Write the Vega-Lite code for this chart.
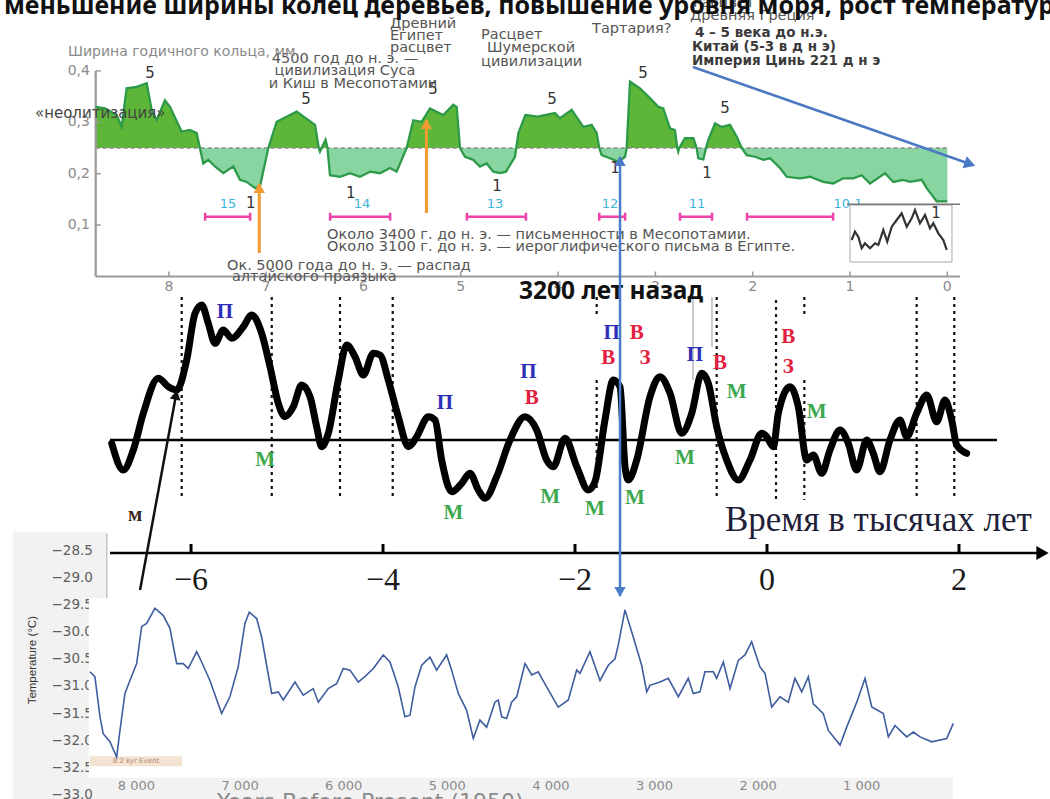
{
"$schema": "https://vega.github.io/schema/vega-lite/v6.json",
"width": 1050, "height": 799, "autosize": {"type": "none"}, "padding": 0, "background": "white",
"config": {"view": {"stroke": null}, "axis": {"grid": false}},
"datasets": {
"rings": [{"k":8.752,"v":0.330},{"k":8.656,"v":0.327},{"k":8.536,"v":0.314},{"k":8.485,"v":0.291},{"k":8.434,"v":0.366},{"k":8.331,"v":0.369},{"k":8.228,"v":0.376},{"k":8.177,"v":0.324},{"k":8.126,"v":0.304},{"k":8.040,"v":0.343},{"k":7.989,"v":0.330},{"k":7.869,"v":0.282},{"k":7.783,"v":0.285},{"k":7.714,"v":0.279},{"k":7.681,"v":0.25},{"k":7.646,"v":0.220},{"k":7.595,"v":0.227},{"k":7.526,"v":0.214},{"k":7.441,"v":0.201},{"k":7.338,"v":0.214},{"k":7.269,"v":0.188},{"k":7.200,"v":0.184},{"k":7.115,"v":0.172},{"k":7.064,"v":0.175},{"k":6.978,"v":0.25},{"k":6.892,"v":0.301},{"k":6.687,"v":0.321},{"k":6.498,"v":0.295},{"k":6.46,"v":0.25},{"k":6.447,"v":0.243},{"k":6.43,"v":0.25},{"k":6.39,"v":0.266},{"k":6.37,"v":0.25},{"k":6.344,"v":0.197},{"k":6.241,"v":0.194},{"k":6.138,"v":0.201},{"k":6.036,"v":0.194},{"k":5.933,"v":0.204},{"k":5.830,"v":0.201},{"k":5.727,"v":0.211},{"k":5.659,"v":0.204},{"k":5.556,"v":0.25},{"k":5.488,"v":0.304},{"k":5.402,"v":0.301},{"k":5.317,"v":0.327},{"k":5.180,"v":0.314},{"k":5.077,"v":0.334},{"k":5.042,"v":0.330},{"k":5.008,"v":0.25},{"k":4.957,"v":0.233},{"k":4.871,"v":0.227},{"k":4.803,"v":0.214},{"k":4.734,"v":0.220},{"k":4.666,"v":0.204},{"k":4.597,"v":0.201},{"k":4.535,"v":0.204},{"k":4.443,"v":0.233},{"k":4.43,"v":0.25},{"k":4.408,"v":0.279},{"k":4.336,"v":0.314},{"k":4.210,"v":0.311},{"k":4.032,"v":0.318},{"k":3.982,"v":0.308},{"k":3.860,"v":0.324},{"k":3.741,"v":0.291},{"k":3.655,"v":0.295},{"k":3.603,"v":0.279},{"k":3.577,"v":0.25},{"k":3.552,"v":0.236},{"k":3.467,"v":0.230},{"k":3.381,"v":0.223},{"k":3.312,"v":0.233},{"k":3.295,"v":0.25},{"k":3.261,"v":0.379},{"k":3.158,"v":0.366},{"k":3.056,"v":0.347},{"k":2.970,"v":0.330},{"k":2.919,"v":0.327},{"k":2.850,"v":0.288},{"k":2.799,"v":0.285},{"k":2.775,"v":0.25},{"k":2.765,"v":0.243},{"k":2.755,"v":0.25},{"k":2.696,"v":0.269},{"k":2.610,"v":0.269},{"k":2.576,"v":0.25},{"k":2.559,"v":0.230},{"k":2.508,"v":0.228},{"k":2.48,"v":0.25},{"k":2.456,"v":0.266},{"k":2.387,"v":0.298},{"k":2.319,"v":0.291},{"k":2.233,"v":0.295},{"k":2.164,"v":0.272},{"k":2.113,"v":0.25},{"k":2.062,"v":0.236},{"k":1.976,"v":0.233},{"k":1.891,"v":0.227},{"k":1.822,"v":0.230},{"k":1.719,"v":0.211},{"k":1.651,"v":0.194},{"k":1.514,"v":0.191},{"k":1.411,"v":0.194},{"k":1.274,"v":0.184},{"k":1.172,"v":0.181},{"k":1.069,"v":0.191},{"k":0.966,"v":0.191},{"k":0.880,"v":0.197},{"k":0.794,"v":0.181},{"k":0.640,"v":0.201},{"k":0.555,"v":0.184},{"k":0.452,"v":0.188},{"k":0.383,"v":0.184},{"k":0.263,"v":0.188},{"k":0.212,"v":0.172},{"k":0.109,"v":0.146},{"k":0.0,"v":0.146}],
"linesA": [
{"k1":8.752,"v1":0.25,"k2":0.0,"v2":0.25,"grp":"thr"},
{"k1":8.752,"v1":0.0,"k2":-0.1305,"v2":0.0,"grp":"axis"},
{"k1":8.752,"v1":0.0,"k2":8.752,"v2":0.4,"grp":"axis"},
{"k1":7.071,"v1":0.0457,"k2":7.071,"v2":0.180,"grp":"orange"},
{"k1":5.353,"v1":0.1235,"k2":5.353,"v2":0.3045,"grp":"orange"},
{"k1":2.614,"v1":0.4076,"k2":-0.263,"v2":0.2169,"grp":"blue"},
{"k1":1.031,"v1":0.1406,"k2":-0.131,"v2":0.1406,"grp":"inset"}],
"ticksA": [{"k":8,"lab":"8"},{"k":7,"lab":"7"},{"k":6,"lab":"6"},{"k":5,"lab":"5"},{"k":4,"lab":"4"},{"k":3,"lab":"3"},{"k":2,"lab":"2"},{"k":1,"lab":"1"},{"k":0,"lab":"0"}],
"yticksA": [{"v":0.1,"lab":"0,1"},{"v":0.2,"lab":"0,2"},{"v":0.3,"lab":"0,3"},{"v":0.4,"lab":"0,4"}],
"pinkA": [{"k1":7.627,"k2":7.165,"v":0.1163},{"k1":6.343,"k2":5.726,"v":0.1163},{"k1":4.937,"k2":4.330,"v":0.1163},{"k1":3.577,"k2":3.312,"v":0.1163},{"k1":2.747,"k2":2.418,"v":0.1163},{"k1":2.058,"k2":1.174,"v":0.1163}],
"insetBox": [{"k1":1.0,"k2":-0.048,"v1":0.139,"v2":0.0282}],
"insetLine": [{"k":0.983,"v":0.0710},{"k":0.949,"v":0.0872},{"k":0.915,"v":0.0774},{"k":0.880,"v":0.0549},{"k":0.846,"v":0.0646},{"k":0.794,"v":0.0549},{"k":0.743,"v":0.0646},{"k":0.709,"v":0.0613},{"k":0.658,"v":0.0905},{"k":0.617,"v":0.0677},{"k":0.571,"v":0.0969},{"k":0.520,"v":0.1099},{"k":0.469,"v":0.1230},{"k":0.417,"v":0.0969},{"k":0.366,"v":0.1132},{"k":0.332,"v":0.1294},{"k":0.281,"v":0.1035},{"k":0.229,"v":0.1196},{"k":0.178,"v":0.0938},{"k":0.144,"v":0.1035},{"k":0.092,"v":0.0840},{"k":0.041,"v":0.0710},{"k":0.006,"v":0.0516}],
"textA": [
{"k":9.695,"v":0.5107,"text":"меньшение ширины колец деревьев, повышение уровня моря, рост температуры","grp":"title"},
{"k":5.728,"v":0.4912,"text":"Древний","grp":"ann"},
{"k":5.728,"v":0.4679,"text":"Египет","grp":"ann"},
{"k":5.728,"v":0.4446,"text":"расцвет","grp":"ann"},
{"k":4.792,"v":0.4698,"text":"Расцвет","grp":"ann"},
{"k":4.731,"v":0.4446,"text":"Шумерской","grp":"ann"},
{"k":4.792,"v":0.4173,"text":"цивилизации","grp":"ann"},
{"k":3.651,"v":0.4815,"text":"Тартария?","grp":"ann"},
{"k":2.614,"v":0.5321,"text":"Расцвет","grp":"ann"},
{"k":2.644,"v":0.5068,"text":"Древняя Греция","grp":"ann"},
{"k":6.375,"v":0.0807,"text":"Около 3400 г. до н. э. —  письменности в Месопотамии.","grp":"ann"},
{"k":6.375,"v":0.0574,"text":"Около 3100 г. до н. э. — иероглифического письма в Египте.","grp":"ann"},
{"k":7.403,"v":0.0204,"text":"Ок. 5000 года до н. э. — распад","grp":"ann"},
{"k":7.352,"v":-0.001,"text":"алтайского праязыка","grp":"ann"},
{"k":6.190,"v":0.4232,"text":"4500 год до н. э. —","grp":"annc"},
{"k":6.190,"v":0.3998,"text":"цивилизация Суса","grp":"annc"},
{"k":6.108,"v":0.3745,"text":"и Киш в Месопотамии","grp":"annc"},
{"k":2.593,"v":0.4737,"text":"4 – 5 века до н.э.","grp":"annb"},
{"k":2.624,"v":0.4465,"text":"Китай (5-3 в д н э)","grp":"annb"},
{"k":2.624,"v":0.4193,"text":"Империя Цинь  221 д н э","grp":"annb"},
{"k":9.037,"v":0.4368,"text":"Ширина годичного кольца, мм","grp":"ylab"},
{"k":9.376,"v":0.3181,"text":"«неолитизация»","grp":"neo"},
{"k":8.194,"v":0.3959,"text":"5","grp":"dig"},
{"k":6.591,"v":0.3453,"text":"5","grp":"dig"},
{"k":5.286,"v":0.3648,"text":"5","grp":"dig"},
{"k":4.063,"v":0.3453,"text":"5","grp":"dig"},
{"k":3.127,"v":0.3959,"text":"5","grp":"dig"},
{"k":2.285,"v":0.3278,"text":"5","grp":"dig"},
{"k":7.159,"v":0.1430,"text":"1","grp":"dig"},
{"k":6.131,"v":0.1625,"text":"1","grp":"dig"},
{"k":4.628,"v":0.1761,"text":"1","grp":"dig"},
{"k":3.415,"v":0.2111,"text":"1","grp":"dig"},
{"k":2.470,"v":0.2014,"text":"1","grp":"dig"},
{"k":0.116,"v":0.1235,"text":"1","grp":"dig"},
{"k":7.393,"v":0.1411,"text":"15","grp":"cyan"},
{"k":6.016,"v":0.1411,"text":"14","grp":"cyan"},
{"k":4.649,"v":0.1411,"text":"13","grp":"cyan"},
{"k":3.467,"v":0.1411,"text":"12","grp":"cyan"},
{"k":2.573,"v":0.1411,"text":"11","grp":"cyan"},
{"k":1.021,"v":0.1411,"text":"10.1","grp":"cyan"}],
"curveB": [{"t":-6.826,"v":-0.33},{"t":-6.705,"v":-3.0},{"t":-6.601,"v":-1.0},{"t":-6.497,"v":2.67},{"t":-6.341,"v":6.17},{"t":-6.236,"v":5.33},{"t":-6.149,"v":5.0},{"t":-6.045,"v":8.0},{"t":-5.958,"v":12.67},{"t":-5.889,"v":13.5},{"t":-5.820,"v":11.67},{"t":-5.750,"v":9.67},{"t":-5.664,"v":11.0},{"t":-5.576,"v":10.17},{"t":-5.455,"v":11.33},{"t":-5.368,"v":12.5},{"t":-5.264,"v":10.67},{"t":-5.177,"v":7.33},{"t":-5.091,"v":3.67},{"t":-5.021,"v":2.33},{"t":-4.934,"v":3.33},{"t":-4.847,"v":5.5},{"t":-4.760,"v":4.33},{"t":-4.691,"v":1.33},{"t":-4.639,"v":-0.67},{"t":-4.570,"v":0.67},{"t":-4.466,"v":6.0},{"t":-4.378,"v":9.5},{"t":-4.292,"v":8.33},{"t":-4.205,"v":6.5},{"t":-4.101,"v":8.67},{"t":-4.031,"v":8.5},{"t":-3.945,"v":6.0},{"t":-3.841,"v":2.33},{"t":-3.736,"v":-0.67},{"t":-3.649,"v":0.33},{"t":-3.528,"v":2.33},{"t":-3.458,"v":2.0},{"t":-3.389,"v":-2.0},{"t":-3.284,"v":-5.17},{"t":-3.180,"v":-4.33},{"t":-3.094,"v":-3.33},{"t":-3.007,"v":-5.0},{"t":-2.938,"v":-5.83},{"t":-2.816,"v":-3.67},{"t":-2.677,"v":0},{"t":-2.521,"v":2.33},{"t":-2.399,"v":1.0},{"t":-2.295,"v":-2.0},{"t":-2.226,"v":-2.67},{"t":-2.104,"v":0.17},{"t":-1.982,"v":-2.67},{"t":-1.861,"v":-5.0},{"t":-1.792,"v":-4.17},{"t":-1.688,"v":2.0},{"t":-1.601,"v":6.0},{"t":-1.531,"v":5.33},{"t":-1.479,"v":-2.67},{"t":-1.445,"v":-4.0},{"t":-1.357,"v":-2.0},{"t":-1.219,"v":4.33},{"t":-1.115,"v":6.33},{"t":-1.010,"v":4.67},{"t":-0.889,"v":0.67},{"t":-0.784,"v":2.67},{"t":-0.680,"v":6.67},{"t":-0.611,"v":5.67},{"t":-0.524,"v":1.33},{"t":-0.420,"v":-2.0},{"t":-0.299,"v":-4.0},{"t":-0.177,"v":-2.0},{"t":-0.055,"v":0.67},{"t":-0.003,"v":0.33},{"t":0.066,"v":-0.67},{"t":0.118,"v":2.67},{"t":0.240,"v":5.33},{"t":0.326,"v":3.33},{"t":0.414,"v":-2.0},{"t":0.482,"v":-1.5},{"t":0.570,"v":-3.33},{"t":0.656,"v":-1.0},{"t":0.760,"v":1.0},{"t":0.847,"v":-0.33},{"t":0.934,"v":-3.0},{"t":1.039,"v":0},{"t":1.107,"v":-1.33},{"t":1.177,"v":-3.17},{"t":1.281,"v":0},{"t":1.385,"v":2.0},{"t":1.455,"v":0.33},{"t":1.559,"v":2.67},{"t":1.664,"v":4.5},{"t":1.768,"v":1.83},{"t":1.854,"v":4.0},{"t":1.924,"v":2.0},{"t":1.976,"v":-0.5},{"t":2.080,"v":-1.33}],
"dashB": [{"t":-6.097,"v1":14.3,"v2":-6.0},{"t":-5.159,"v1":14.3,"v2":-6.0},{"t":-4.448,"v1":14.3,"v2":-6.0},{"t":-3.899,"v1":14.3,"v2":-6.0},{"t":-1.774,"v1":14.3,"v2":12.3},{"t":-1.774,"v1":6.0,"v2":-5.0},{"t":-0.524,"v1":14.3,"v2":-6.0},{"t":0.094,"v1":14.0,"v2":-6.0},{"t":0.389,"v1":14.3,"v2":12.3},{"t":0.389,"v1":6.0,"v2":-6.0},{"t":1.559,"v1":14.3,"v2":-6.0},{"t":1.951,"v1":14.3,"v2":-6.0}],
"lettersB": [{"t":-5.646,"v":12.83,"letter":"П"},{"t":-3.354,"v":3.67,"letter":"П"},{"t":-2.486,"v":6.83,"letter":"П"},{"t":-1.618,"v":10.67,"letter":"П"},{"t":-0.75,"v":8.5,"letter":"П"},{"t":-5.229,"v":-2.0,"letter":"М"},{"t":-3.268,"v":-7.33,"letter":"М"},{"t":-2.260,"v":-5.67,"letter":"М"},{"t":-1.792,"v":-6.93,"letter":"М"},{"t":-1.375,"v":-5.83,"letter":"М"},{"t":-0.316,"v":4.83,"letter":"М"},{"t":-0.854,"v":-1.83,"letter":"М"},{"t":0.518,"v":2.83,"letter":"М"},{"t":-2.451,"v":4.17,"letter":"В"},{"t":-1.653,"v":8.17,"letter":"В"},{"t":-1.357,"v":10.67,"letter":"В"},{"t":-0.490,"v":7.67,"letter":"В"},{"t":0.222,"v":10.33,"letter":"В"},{"t":-1.271,"v":8.17,"letter":"З"},{"t":0.222,"v":7.27,"letter":"З"},{"t":-6.583,"v":-7.5,"letter":"м"}],
"textB": [{"t":-2.583,"v":14.8,"text":"3200 лет назад","grp":"t3200"},{"t":-0.438,"v":-8.0,"text":"Время в тысячах лет","grp":"time"}],
"linesB": [{"t1":-6.844,"v1":0,"t2":2.396,"v2":0,"grp":"zero"},{"t1":-6.844,"v1":-11.3,"t2":2.85,"v2":-11.3,"grp":"axis"},{"t1":-6.531,"v1":-15,"t2":-6.156,"v2":4.5,"grp":"black"},{"t1":-1.531,"v1":-15.6,"t2":-1.531,"v2":28.3,"grp":"blue"},{"t1":-0.771,"v1":14.3,"t2":-0.771,"v2":6.0,"grp":"grey"},{"t1":-0.573,"v1":14.3,"t2":-0.573,"v2":9.3,"grp":"grey"}],
"ticksB": [{"t":-6,"lab":"−6"},{"t":-4,"lab":"−4"},{"t":-2,"lab":"−2"},{"t":0,"lab":"0"},{"t":2,"lab":"2"}],
"tipsB": [{"t":2.87,"v":-11.3}],
"temp": [{"yr":8449,"T":-30.73},{"yr":8401,"T":-30.82},{"yr":8352,"T":-31.56},{"yr":8321,"T":-31.87},{"yr":8256,"T":-32.02},{"yr":8191,"T":-32.30},{"yr":8159,"T":-31.81},{"yr":8111,"T":-31.13},{"yr":8063,"T":-30.89},{"yr":7998,"T":-30.58},{"yr":7950,"T":-29.90},{"yr":7902,"T":-29.84},{"yr":7822,"T":-29.56},{"yr":7742,"T":-29.69},{"yr":7677,"T":-29.93},{"yr":7612,"T":-30.58},{"yr":7549,"T":-30.58},{"yr":7500,"T":-30.67},{"yr":7419,"T":-30.36},{"yr":7371,"T":-30.55},{"yr":7291,"T":-30.89},{"yr":7178,"T":-31.50},{"yr":7098,"T":-31.19},{"yr":7018,"T":-30.64},{"yr":6953,"T":-29.84},{"yr":6911,"T":-29.63},{"yr":6840,"T":-29.75},{"yr":6792,"T":-30.09},{"yr":6695,"T":-31.13},{"yr":6631,"T":-31.10},{"yr":6583,"T":-31.25},{"yr":6470,"T":-30.92},{"yr":6390,"T":-31.16},{"yr":6294,"T":-31.04},{"yr":6245,"T":-31.29},{"yr":6149,"T":-31.04},{"yr":6068,"T":-30.95},{"yr":6004,"T":-30.67},{"yr":5939,"T":-30.70},{"yr":5859,"T":-30.92},{"yr":5795,"T":-30.82},{"yr":5714,"T":-30.67},{"yr":5618,"T":-30.42},{"yr":5553,"T":-30.55},{"yr":5473,"T":-31.01},{"yr":5409,"T":-31.56},{"yr":5360,"T":-31.53},{"yr":5312,"T":-31.01},{"yr":5247,"T":-30.61},{"yr":5167,"T":-30.46},{"yr":5103,"T":-30.70},{"yr":5006,"T":-30.42},{"yr":4958,"T":-30.70},{"yr":4894,"T":-31.13},{"yr":4813,"T":-31.44},{"yr":4749,"T":-31.96},{"yr":4685,"T":-31.62},{"yr":4620,"T":-31.75},{"yr":4540,"T":-31.29},{"yr":4508,"T":-31.25},{"yr":4475,"T":-31.56},{"yr":4427,"T":-31.59},{"yr":4379,"T":-31.29},{"yr":4330,"T":-31.19},{"yr":4250,"T":-30.58},{"yr":4185,"T":-30.79},{"yr":4122,"T":-30.73},{"yr":4041,"T":-31.01},{"yr":3929,"T":-31.38},{"yr":3832,"T":-31.25},{"yr":3751,"T":-30.70},{"yr":3719,"T":-30.76},{"yr":3623,"T":-30.36},{"yr":3526,"T":-30.89},{"yr":3446,"T":-30.61},{"yr":3381,"T":-30.49},{"yr":3350,"T":-30.24},{"yr":3285,"T":-29.59},{"yr":3205,"T":-30.09},{"yr":3124,"T":-30.61},{"yr":3075,"T":-31.10},{"yr":3044,"T":-30.98},{"yr":2947,"T":-30.92},{"yr":2867,"T":-30.85},{"yr":2770,"T":-31.19},{"yr":2674,"T":-30.85},{"yr":2626,"T":-31.13},{"yr":2561,"T":-31.10},{"yr":2513,"T":-30.73},{"yr":2432,"T":-30.73},{"yr":2400,"T":-30.85},{"yr":2336,"T":-30.55},{"yr":2271,"T":-31.04},{"yr":2191,"T":-30.52},{"yr":2127,"T":-30.42},{"yr":2062,"T":-30.18},{"yr":1982,"T":-30.64},{"yr":1933,"T":-30.76},{"yr":1869,"T":-31.38},{"yr":1789,"T":-31.19},{"yr":1709,"T":-31.29},{"yr":1644,"T":-30.85},{"yr":1579,"T":-31.10},{"yr":1515,"T":-30.82},{"yr":1467,"T":-31.32},{"yr":1371,"T":-31.50},{"yr":1322,"T":-31.81},{"yr":1209,"T":-32.08},{"yr":1145,"T":-31.75},{"yr":1048,"T":-31.29},{"yr":968,"T":-30.85},{"yr":903,"T":-31.38},{"yr":791,"T":-31.50},{"yr":743,"T":-31.93},{"yr":679,"T":-31.72},{"yr":566,"T":-31.93},{"yr":502,"T":-31.84},{"yr":437,"T":-31.93},{"yr":324,"T":-32.02},{"yr":180,"T":-31.96},{"yr":116,"T":-31.68}],
"rectC": [{"yr1":9193,"yr2":8286,"T1":-28.155,"T2":-29.373,"grp":"bg"},{"yr1":9193,"yr2":8459,"T1":-29.373,"T2":-33.081,"grp":"bg"},{"yr1":8459,"yr2":119,"T1":-32.676,"T2":-33.081,"grp":"bg"},{"yr1":8459,"yr2":119,"T1":-29.373,"T2":-32.676,"grp":"plot"},{"yr1":8449,"yr2":7560,"T1":-32.288,"T2":-32.472,"grp":"ev"}],
"edgeC": [{"yr":8286,"T1":-28.18,"T2":-29.37}],
"ticksCx": [{"yr":8000,"lab":"8 000"},{"yr":7000,"lab":"7 000"},{"yr":6000,"lab":"6 000"},{"yr":5000,"lab":"5 000"},{"yr":4000,"lab":"4 000"},{"yr":3000,"lab":"3 000"},{"yr":2000,"lab":"2 000"},{"yr":1000,"lab":"1 000"}],
"ticksCy": [{"T":-28.5,"lab":"−28.5"},{"T":-29.0,"lab":"−29.0"},{"T":-29.5,"lab":"−29.5"},{"T":-30.0,"lab":"−30.0"},{"T":-30.5,"lab":"−30.5"},{"T":-31.0,"lab":"−31.0"},{"T":-31.5,"lab":"−31.5"},{"T":-32.0,"lab":"−32.0"},{"T":-32.5,"lab":"−32.5"},{"T":-33.0,"lab":"−33.0"}],
"textC": [{"yr":8999,"T":-30.517,"text":"Temperature (°C)","grp":"ylab"},{"yr":7223,"T":-32.952,"text":"Years Before Present (1950)","grp":"xlab"},{"yr":8005,"T":-32.38,"text":"8.2 kyr Event","grp":"ev"}]
},
"resolve": {"scale": {"x": "independent", "y": "independent"}},
"layer": [
{
 "layer": [
  {"data":{"name":"rectC"},"transform":[{"filter":"datum.grp == 'bg'"}],"mark":{"type":"rect","color":"#f2f2f2"},
   "encoding":{"x":{"field":"yr1","type":"quantitative","scale":{"domain":[8458,119],"range":[89,953],"zero":false,"nice":false},"axis":null},"x2":{"field":"yr2"},"y":{"field":"T1","type":"quantitative","scale":{"domain":[-33,-28.5],"range":[795,550.7],"zero":false,"nice":false},"axis":null},"y2":{"field":"T2"}}},
  {"data":{"name":"ticksCy"},"mark":{"type":"text","align":"right","baseline":"middle","font":"DejaVu Sans","fontSize":13.5,"color":"#5e5e5e"},
   "encoding":{"x":{"datum":8420,"type":"quantitative","scale":{"domain":[8458,119],"range":[89,953],"zero":false,"nice":false},"axis":null},"y":{"field":"T","type":"quantitative","scale":{"domain":[-33,-28.5],"range":[795,550.7],"zero":false,"nice":false},"axis":null},"text":{"field":"lab"}}},
  {"data":{"name":"rectC"},"transform":[{"filter":"datum.grp == 'plot'"}],"mark":{"type":"rect","color":"#ffffff"},
   "encoding":{"x":{"field":"yr1","type":"quantitative","scale":{"domain":[8458,119],"range":[89,953],"zero":false,"nice":false},"axis":null},"x2":{"field":"yr2"},"y":{"field":"T1","type":"quantitative","scale":{"domain":[-33,-28.5],"range":[795,550.7],"zero":false,"nice":false},"axis":null},"y2":{"field":"T2"}}},
  {"data":{"name":"rectC"},"transform":[{"filter":"datum.grp == 'ev'"}],"mark":{"type":"rect","color":"#f4e2d2"},
   "encoding":{"x":{"field":"yr1","type":"quantitative","scale":{"domain":[8458,119],"range":[89,953],"zero":false,"nice":false},"axis":null},"x2":{"field":"yr2"},"y":{"field":"T1","type":"quantitative","scale":{"domain":[-33,-28.5],"range":[795,550.7],"zero":false,"nice":false},"axis":null},"y2":{"field":"T2"}}},
  {"data":{"name":"edgeC"},"mark":{"type":"rule","color":"#c4c4c4","strokeWidth":1.5},
   "encoding":{"x":{"field":"yr","type":"quantitative","scale":{"domain":[8458,119],"range":[89,953],"zero":false,"nice":false},"axis":null},"y":{"field":"T1","type":"quantitative","scale":{"domain":[-33,-28.5],"range":[795,550.7],"zero":false,"nice":false},"axis":null},"y2":{"field":"T2"}}},
  {"data":{"name":"temp"},"mark":{"type":"line","color":"#3f5d9e","strokeWidth":1.6},
   "encoding":{"x":{"field":"yr","type":"quantitative","scale":{"domain":[8458,119],"range":[89,953],"zero":false,"nice":false},"axis":null},"y":{"field":"T","type":"quantitative","scale":{"domain":[-33,-28.5],"range":[795,550.7],"zero":false,"nice":false},"axis":null}}},
  {"data":{"name":"ticksCx"},"mark":{"type":"text","align":"center","baseline":"middle","font":"DejaVu Sans","fontSize":13,"color":"#8a8a8a"},
   "encoding":{"x":{"field":"yr","type":"quantitative","scale":{"domain":[8458,119],"range":[89,953],"zero":false,"nice":false},"axis":null},"y":{"datum":-32.841,"type":"quantitative","scale":{"domain":[-33,-28.5],"range":[795,550.7],"zero":false,"nice":false},"axis":null},"text":{"field":"lab"}}},
  {"data":{"name":"textC"},
   "encoding":{"x":{"field":"yr","type":"quantitative","scale":{"domain":[8458,119],"range":[89,953],"zero":false,"nice":false},"axis":null},"y":{"field":"T","type":"quantitative","scale":{"domain":[-33,-28.5],"range":[795,550.7],"zero":false,"nice":false},"axis":null},"text":{"field":"text"}},
   "layer": [
    {"transform":[{"filter":"datum.grp == 'ylab'"}],"mark":{"type":"text","angle":270,"align":"center","baseline":"middle","font":"Liberation Sans","fontSize":11.5,"color":"#333"}},
    {"transform":[{"filter":"datum.grp == 'xlab'"}],"mark":{"type":"text","align":"left","baseline":"top","font":"DejaVu Sans","fontSize":22,"color":"#8a8a8a"}},
    {"transform":[{"filter":"datum.grp == 'ev'"}],"mark":{"type":"text","align":"center","baseline":"middle","font":"DejaVu Sans","fontSize":7,"color":"#b08a72"}}
   ]}
 ]
},
{
 "resolve": {"scale": {"y": "independent"}},
 "layer": [
  {"data":{"name":"rings"},"mark":{"type":"area","color":"#5db637"},
   "encoding":{"x":{"field":"k","type":"quantitative","scale":{"domain":[8.752,-0.1305],"range":[95.7,960],"zero":false,"nice":false},"axis":null},"y":{"field":"v","type":"quantitative","scale":{"domain":[0.25,0.4],"range":[148,70.9],"clamp":true,"zero":false,"nice":false},"axis":null},"y2":{"datum":0.25}}},
  {"data":{"name":"rings"},"mark":{"type":"area","color":"#89d5a2"},
   "encoding":{"x":{"field":"k","type":"quantitative","scale":{"domain":[8.752,-0.1305],"range":[95.7,960],"zero":false,"nice":false},"axis":null},"y":{"field":"v","type":"quantitative","scale":{"domain":[0,0.25],"range":[276.5,148],"clamp":true,"zero":false,"nice":false},"axis":null},"y2":{"datum":0.25}}},
  {
   "layer": [
    {"data":{"name":"linesA"},"transform":[{"filter":"datum.grp == 'thr'"}],"mark":{"type":"rule","color":"#8a8a8a","strokeWidth":1.3,"strokeDash":[4,3]},
     "encoding":{"x":{"field":"k1","type":"quantitative","scale":{"domain":[8.752,-0.1305],"range":[95.7,960],"zero":false,"nice":false},"axis":null},"x2":{"field":"k2"},"y":{"field":"v1","type":"quantitative","scale":{"domain":[0,0.4],"range":[276.5,70.9],"zero":false,"nice":false},"axis":null},"y2":{"field":"v2"}}},
    {"data":{"name":"linesA"},"transform":[{"filter":"datum.grp == 'axis'"}],"mark":{"type":"rule","color":"#9a9a9a","strokeWidth":2.2},
     "encoding":{"x":{"field":"k1","type":"quantitative","scale":{"domain":[8.752,-0.1305],"range":[95.7,960],"zero":false,"nice":false},"axis":null},"x2":{"field":"k2"},"y":{"field":"v1","type":"quantitative","scale":{"domain":[0,0.4],"range":[276.5,70.9],"zero":false,"nice":false},"axis":null},"y2":{"field":"v2"}}},
    {"data":{"name":"ticksA"},"mark":{"type":"rule","color":"#9a9a9a","strokeWidth":1.5},
     "encoding":{"x":{"field":"k","type":"quantitative","scale":{"domain":[8.752,-0.1305],"range":[95.7,960],"zero":false,"nice":false},"axis":null},"y":{"datum":0,"type":"quantitative","scale":{"domain":[0,0.4],"range":[276.5,70.9],"zero":false,"nice":false},"axis":null},"y2":{"datum":0.0097}}},
    {"data":{"name":"ticksA"},"mark":{"type":"text","align":"center","baseline":"middle","font":"DejaVu Sans","fontSize":14,"color":"#8a8a8a"},
     "encoding":{"x":{"field":"k","type":"quantitative","scale":{"domain":[8.752,-0.1305],"range":[95.7,960],"zero":false,"nice":false},"axis":null},"y":{"datum":-0.0204,"type":"quantitative","scale":{"domain":[0,0.4],"range":[276.5,70.9],"zero":false,"nice":false},"axis":null},"text":{"field":"lab"}}},
    {"data":{"name":"yticksA"},"mark":{"type":"rule","color":"#9a9a9a","strokeWidth":1.5},
     "encoding":{"x":{"datum":8.752,"type":"quantitative","scale":{"domain":[8.752,-0.1305],"range":[95.7,960],"zero":false,"nice":false},"axis":null},"x2":{"datum":8.70},"y":{"field":"v","type":"quantitative","scale":{"domain":[0,0.4],"range":[276.5,70.9],"zero":false,"nice":false},"axis":null}}},
    {"data":{"name":"yticksA"},"mark":{"type":"text","align":"right","baseline":"middle","font":"DejaVu Sans","fontSize":14,"color":"#8a8a8a"},
     "encoding":{"x":{"datum":8.811,"type":"quantitative","scale":{"domain":[8.752,-0.1305],"range":[95.7,960],"zero":false,"nice":false},"axis":null},"y":{"field":"v","type":"quantitative","scale":{"domain":[0,0.4],"range":[276.5,70.9],"zero":false,"nice":false},"axis":null},"text":{"field":"lab"}}},
    {"data":{"name":"rings"},"mark":{"type":"line","color":"#2c9a49","strokeWidth":2.3},
     "encoding":{"x":{"field":"k","type":"quantitative","scale":{"domain":[8.752,-0.1305],"range":[95.7,960],"zero":false,"nice":false},"axis":null},"y":{"field":"v","type":"quantitative","scale":{"domain":[0,0.4],"range":[276.5,70.9],"zero":false,"nice":false},"axis":null}}},
    {"data":{"name":"pinkA"},"mark":{"type":"rule","color":"#ef43a9","strokeWidth":2.5},
     "encoding":{"x":{"field":"k1","type":"quantitative","scale":{"domain":[8.752,-0.1305],"range":[95.7,960],"zero":false,"nice":false},"axis":null},"x2":{"field":"k2"},"y":{"field":"v","type":"quantitative","scale":{"domain":[0,0.4],"range":[276.5,70.9],"zero":false,"nice":false},"axis":null}}},
    {"data":{"name":"pinkA"},"mark":{"type":"point","shape":"M0,-1L0,1","filled":false,"color":"#ef43a9","strokeWidth":2.5,"size":64,"opacity":1},
     "encoding":{"x":{"field":"k1","type":"quantitative","scale":{"domain":[8.752,-0.1305],"range":[95.7,960],"zero":false,"nice":false},"axis":null},"y":{"field":"v","type":"quantitative","scale":{"domain":[0,0.4],"range":[276.5,70.9],"zero":false,"nice":false},"axis":null}}},
    {"data":{"name":"pinkA"},"mark":{"type":"point","shape":"M0,-1L0,1","filled":false,"color":"#ef43a9","strokeWidth":2.5,"size":64,"opacity":1},
     "encoding":{"x":{"field":"k2","type":"quantitative","scale":{"domain":[8.752,-0.1305],"range":[95.7,960],"zero":false,"nice":false},"axis":null},"y":{"field":"v","type":"quantitative","scale":{"domain":[0,0.4],"range":[276.5,70.9],"zero":false,"nice":false},"axis":null}}},
    {"data":{"name":"textA"},"transform":[{"filter":"datum.grp == 'cyan'"}],"mark":{"type":"text","align":"center","baseline":"middle","font":"DejaVu Sans","fontSize":13,"color":"#3cb4d9"},
     "encoding":{"x":{"field":"k","type":"quantitative","scale":{"domain":[8.752,-0.1305],"range":[95.7,960],"zero":false,"nice":false},"axis":null},"y":{"field":"v","type":"quantitative","scale":{"domain":[0,0.4],"range":[276.5,70.9],"zero":false,"nice":false},"axis":null},"text":{"field":"text"}}},
    {"data":{"name":"insetBox"},"mark":{"type":"rect","fill":"white","stroke":"#a8a8a8","strokeWidth":1},
     "encoding":{"x":{"field":"k1","type":"quantitative","scale":{"domain":[8.752,-0.1305],"range":[95.7,960],"zero":false,"nice":false},"axis":null},"x2":{"field":"k2"},"y":{"field":"v1","type":"quantitative","scale":{"domain":[0,0.4],"range":[276.5,70.9],"zero":false,"nice":false},"axis":null},"y2":{"field":"v2"}}},
    {"data":{"name":"linesA"},"transform":[{"filter":"datum.grp == 'inset'"}],"mark":{"type":"rule","color":"#777","strokeWidth":1.5},
     "encoding":{"x":{"field":"k1","type":"quantitative","scale":{"domain":[8.752,-0.1305],"range":[95.7,960],"zero":false,"nice":false},"axis":null},"x2":{"field":"k2"},"y":{"field":"v1","type":"quantitative","scale":{"domain":[0,0.4],"range":[276.5,70.9],"zero":false,"nice":false},"axis":null},"y2":{"field":"v2"}}},
    {"data":{"name":"insetLine"},"mark":{"type":"line","color":"#333","strokeWidth":2.2},
     "encoding":{"x":{"field":"k","type":"quantitative","scale":{"domain":[8.752,-0.1305],"range":[95.7,960],"zero":false,"nice":false},"axis":null},"y":{"field":"v","type":"quantitative","scale":{"domain":[0,0.4],"range":[276.5,70.9],"zero":false,"nice":false},"axis":null}}},
    {"data":{"name":"textA"},
     "encoding":{"x":{"field":"k","type":"quantitative","scale":{"domain":[8.752,-0.1305],"range":[95.7,960],"zero":false,"nice":false},"axis":null},"y":{"field":"v","type":"quantitative","scale":{"domain":[0,0.4],"range":[276.5,70.9],"zero":false,"nice":false},"axis":null},"text":{"field":"text"}},
     "layer": [
      {"transform":[{"filter":"datum.grp == 'dig'"}],"mark":{"type":"text","align":"center","baseline":"middle","font":"DejaVu Sans","fontSize":15,"color":"#333"}},
      {"transform":[{"filter":"datum.grp == 'ann'"}],"mark":{"type":"text","align":"left","baseline":"middle","font":"DejaVu Sans","fontSize":14.5,"color":"#555"}},
      {"transform":[{"filter":"datum.grp == 'annc'"}],"mark":{"type":"text","align":"center","baseline":"middle","font":"DejaVu Sans","fontSize":14.5,"color":"#555"}},
      {"transform":[{"filter":"datum.grp == 'annb'"}],"mark":{"type":"text","align":"left","baseline":"middle","font":"DejaVu Sans","fontSize":13.5,"fontWeight":"bold","color":"#3a3a3a"}},
      {"transform":[{"filter":"datum.grp == 'ylab'"}],"mark":{"type":"text","align":"left","baseline":"middle","font":"DejaVu Sans","fontSize":14,"color":"#8a8a8a"}},
      {"transform":[{"filter":"datum.grp == 'neo'"}],"mark":{"type":"text","align":"left","baseline":"middle","font":"DejaVu Sans","fontSize":15,"color":"#444"}},
      {"transform":[{"filter":"datum.grp == 'title'"}],"mark":{"type":"text","align":"left","baseline":"alphabetic","font":"Noto Sans","fontWeight":"bold","fontSize":25,"color":"#111"}}
     ]},
    {"data":{"name":"linesA"},"transform":[{"filter":"datum.grp == 'orange'"}],"mark":{"type":"rule","color":"#f29a33","strokeWidth":3},
     "encoding":{"x":{"field":"k1","type":"quantitative","scale":{"domain":[8.752,-0.1305],"range":[95.7,960],"zero":false,"nice":false},"axis":null},"x2":{"field":"k2"},"y":{"field":"v1","type":"quantitative","scale":{"domain":[0,0.4],"range":[276.5,70.9],"zero":false,"nice":false},"axis":null},"y2":{"field":"v2"}}},
    {"data":{"name":"linesA"},"transform":[{"filter":"datum.grp == 'orange'"}],"mark":{"type":"point","shape":"triangle-up","filled":true,"opacity":1,"color":"#f29a33","size":130,"yOffset":4},
     "encoding":{"x":{"field":"k2","type":"quantitative","scale":{"domain":[8.752,-0.1305],"range":[95.7,960],"zero":false,"nice":false},"axis":null},"y":{"field":"v2","type":"quantitative","scale":{"domain":[0,0.4],"range":[276.5,70.9],"zero":false,"nice":false},"axis":null}}},
    {"data":{"name":"linesA"},"transform":[{"filter":"datum.grp == 'blue'"}],"mark":{"type":"rule","color":"#4a78c2","strokeWidth":2.5},
     "encoding":{"x":{"field":"k1","type":"quantitative","scale":{"domain":[8.752,-0.1305],"range":[95.7,960],"zero":false,"nice":false},"axis":null},"x2":{"field":"k2"},"y":{"field":"v1","type":"quantitative","scale":{"domain":[0,0.4],"range":[276.5,70.9],"zero":false,"nice":false},"axis":null},"y2":{"field":"v2"}}},
    {"data":{"name":"linesA"},"transform":[{"filter":"datum.grp == 'blue'"}],"mark":{"type":"point","shape":"triangle-right","angle":19,"filled":true,"opacity":1,"color":"#4a78c2","size":160,"xOffset":-3,"yOffset":-1},
     "encoding":{"x":{"field":"k2","type":"quantitative","scale":{"domain":[8.752,-0.1305],"range":[95.7,960],"zero":false,"nice":false},"axis":null},"y":{"field":"v2","type":"quantitative","scale":{"domain":[0,0.4],"range":[276.5,70.9],"zero":false,"nice":false},"axis":null}}}
   ]
  }
 ]
},
{
 "layer": [
  {"data":{"name":"linesB"},"transform":[{"filter":"datum.grp == 'zero' || datum.grp == 'axis'"}],"mark":{"type":"rule","color":"#000","strokeWidth":2.6},
   "encoding":{"x":{"field":"t1","type":"quantitative","scale":{"domain":[-6.844,2.896],"range":[110,1045],"zero":false,"nice":false},"axis":null},"x2":{"field":"t2"},"y":{"field":"v1","type":"quantitative","scale":{"domain":[-10,10],"range":[540,340],"zero":false,"nice":false},"axis":null},"y2":{"field":"v2"}}},
  {"data":{"name":"ticksB"},"mark":{"type":"rule","color":"#000","strokeWidth":3},
   "encoding":{"x":{"field":"t","type":"quantitative","scale":{"domain":[-6.844,2.896],"range":[110,1045],"zero":false,"nice":false},"axis":null},"y":{"datum":-11.3,"type":"quantitative","scale":{"domain":[-10,10],"range":[540,340],"zero":false,"nice":false},"axis":null},"y2":{"datum":-10.4}}},
  {"data":{"name":"ticksB"},"mark":{"type":"text","align":"center","baseline":"middle","font":"Liberation Serif","fontSize":32,"color":"#1a1a1a"},
   "encoding":{"x":{"field":"t","type":"quantitative","scale":{"domain":[-6.844,2.896],"range":[110,1045],"zero":false,"nice":false},"axis":null},"y":{"datum":-14.0,"type":"quantitative","scale":{"domain":[-10,10],"range":[540,340],"zero":false,"nice":false},"axis":null},"text":{"field":"lab"}}},
  {"data":{"name":"dashB"},"mark":{"type":"rule","color":"#111","strokeWidth":2.2,"strokeDash":[3,4]},
   "encoding":{"x":{"field":"t","type":"quantitative","scale":{"domain":[-6.844,2.896],"range":[110,1045],"zero":false,"nice":false},"axis":null},"y":{"field":"v1","type":"quantitative","scale":{"domain":[-10,10],"range":[540,340],"zero":false,"nice":false},"axis":null},"y2":{"field":"v2"}}},
  {"data":{"name":"linesB"},"transform":[{"filter":"datum.grp == 'grey'"}],"mark":{"type":"rule","color":"#9a9a9a","strokeWidth":1},
   "encoding":{"x":{"field":"t1","type":"quantitative","scale":{"domain":[-6.844,2.896],"range":[110,1045],"zero":false,"nice":false},"axis":null},"x2":{"field":"t2"},"y":{"field":"v1","type":"quantitative","scale":{"domain":[-10,10],"range":[540,340],"zero":false,"nice":false},"axis":null},"y2":{"field":"v2"}}},
  {"data":{"name":"curveB"},"mark":{"type":"line","color":"#000","strokeWidth":7,"interpolate":"monotone","strokeCap":"round","strokeJoin":"round"},
   "encoding":{"x":{"field":"t","type":"quantitative","scale":{"domain":[-6.844,2.896],"range":[110,1045],"zero":false,"nice":false},"axis":null},"y":{"field":"v","type":"quantitative","scale":{"domain":[-10,10],"range":[540,340],"zero":false,"nice":false},"axis":null}}},
  {"data":{"name":"lettersB"},"mark":{"type":"text","align":"center","baseline":"middle","font":"Liberation Serif","fontWeight":"bold","fontSize":21},
   "encoding":{"x":{"field":"t","type":"quantitative","scale":{"domain":[-6.844,2.896],"range":[110,1045],"zero":false,"nice":false},"axis":null},"y":{"field":"v","type":"quantitative","scale":{"domain":[-10,10],"range":[540,340],"zero":false,"nice":false},"axis":null},"text":{"field":"letter"},"color":{"field":"letter","type":"nominal","scale":{"domain":["П","В","З","М","м"],"range":["#2e2eb8","#e3203d","#e3203d","#3da84f","#3b2a20"]},"legend":null}}},
  {"data":{"name":"textB"},
   "encoding":{"x":{"field":"t","type":"quantitative","scale":{"domain":[-6.844,2.896],"range":[110,1045],"zero":false,"nice":false},"axis":null},"y":{"field":"v","type":"quantitative","scale":{"domain":[-10,10],"range":[540,340],"zero":false,"nice":false},"axis":null},"text":{"field":"text"}},
   "layer": [
    {"transform":[{"filter":"datum.grp == 't3200'"}],"mark":{"type":"text","align":"left","baseline":"middle","font":"Noto Sans","fontWeight":"bold","fontSize":24.5,"color":"#111"}},
    {"transform":[{"filter":"datum.grp == 'time'"}],"mark":{"type":"text","align":"left","baseline":"middle","font":"Liberation Serif","fontSize":35,"color":"#1f1f3a"}}
   ]},
  {"data":{"name":"linesB"},"transform":[{"filter":"datum.grp == 'black'"}],"mark":{"type":"rule","color":"#111","strokeWidth":2.5},
   "encoding":{"x":{"field":"t1","type":"quantitative","scale":{"domain":[-6.844,2.896],"range":[110,1045],"zero":false,"nice":false},"axis":null},"x2":{"field":"t2"},"y":{"field":"v1","type":"quantitative","scale":{"domain":[-10,10],"range":[540,340],"zero":false,"nice":false},"axis":null},"y2":{"field":"v2"}}},
  {"data":{"name":"linesB"},"transform":[{"filter":"datum.grp == 'black'"}],"mark":{"type":"point","shape":"triangle-up","angle":11,"filled":true,"opacity":1,"color":"#111","size":120},
   "encoding":{"x":{"field":"t2","type":"quantitative","scale":{"domain":[-6.844,2.896],"range":[110,1045],"zero":false,"nice":false},"axis":null},"y":{"field":"v2","type":"quantitative","scale":{"domain":[-10,10],"range":[540,340],"zero":false,"nice":false},"axis":null}}},
  {"data":{"name":"tipsB"},"mark":{"type":"point","shape":"triangle-right","filled":true,"opacity":1,"color":"#000","size":200},
   "encoding":{"x":{"field":"t","type":"quantitative","scale":{"domain":[-6.844,2.896],"range":[110,1045],"zero":false,"nice":false},"axis":null},"y":{"field":"v","type":"quantitative","scale":{"domain":[-10,10],"range":[540,340],"zero":false,"nice":false},"axis":null}}},
  {"data":{"name":"linesB"},"transform":[{"filter":"datum.grp == 'blue'"}],"mark":{"type":"rule","color":"#4a7cc9","strokeWidth":2.5},
   "encoding":{"x":{"field":"t1","type":"quantitative","scale":{"domain":[-6.844,2.896],"range":[110,1045],"zero":false,"nice":false},"axis":null},"x2":{"field":"t2"},"y":{"field":"v1","type":"quantitative","scale":{"domain":[-10,10],"range":[540,340],"zero":false,"nice":false},"axis":null},"y2":{"field":"v2"}}},
  {"data":{"name":"linesB"},"transform":[{"filter":"datum.grp == 'blue'"}],"mark":{"type":"point","shape":"triangle-up","filled":true,"opacity":1,"color":"#4a7cc9","size":130,"yOffset":4},
   "encoding":{"x":{"field":"t2","type":"quantitative","scale":{"domain":[-6.844,2.896],"range":[110,1045],"zero":false,"nice":false},"axis":null},"y":{"field":"v2","type":"quantitative","scale":{"domain":[-10,10],"range":[540,340],"zero":false,"nice":false},"axis":null}}},
  {"data":{"name":"linesB"},"transform":[{"filter":"datum.grp == 'blue'"}],"mark":{"type":"point","shape":"triangle-down","filled":true,"opacity":1,"color":"#4a7cc9","size":130,"yOffset":-4},
   "encoding":{"x":{"field":"t1","type":"quantitative","scale":{"domain":[-6.844,2.896],"range":[110,1045],"zero":false,"nice":false},"axis":null},"y":{"field":"v1","type":"quantitative","scale":{"domain":[-10,10],"range":[540,340],"zero":false,"nice":false},"axis":null}}}
 ]
}
]
}
